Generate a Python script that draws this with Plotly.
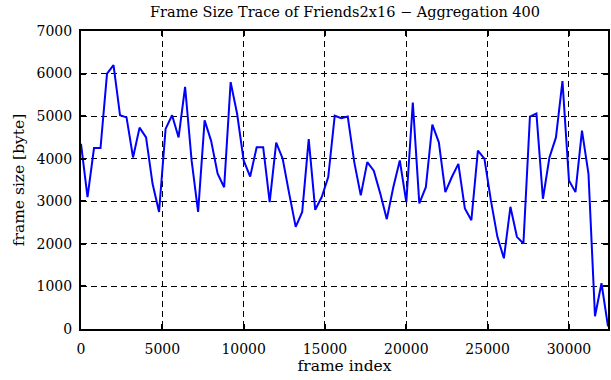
import plotly.graph_objects as go

# Aggregated frame sizes (bytes), one value per 400 frames
frame_index = [i * 400 for i in range(82)]
frame_size = [
    4350, 3100, 4250, 4250, 6000, 6200, 5020, 4970, 4030, 4730,
    4500, 3410, 2750, 4700, 5020, 4500, 5690, 3960, 2750, 4900,
    4420, 3650, 3330, 5800, 5050, 3960, 3580, 4270, 4270, 2980,
    4380, 4000, 3180, 2400, 2750, 4460, 2800, 3100, 3570, 5010,
    4950, 4990, 3920, 3140, 3920, 3720, 3180, 2580, 3330, 3960,
    2980, 5320, 2950, 3330, 4800, 4385, 3215, 3570, 3880, 2830,
    2555, 4190, 4000, 3020, 2165, 1660, 2870, 2165, 2010, 4990,
    5060, 3060, 4030, 4500, 5825, 3490, 3215, 4660, 3645, 300,
    1075, 60,
]
x_ticks = [0, 5000, 10000, 15000, 20000, 25000, 30000]
x_tick_labels = ["0", "5000", "10000", "15000", "20000", "25000", "30000"]
y_ticks = [0, 1000, 2000, 3000, 4000, 5000, 6000, 7000]
y_tick_labels = ["0", "1000", "2000", "3000", "4000", "5000", "6000", "7000"]

fig = go.Figure(
    go.Scatter(
        x=frame_index, y=frame_size, mode="lines",
        line=dict(color="#0000ff", width=2),
        showlegend=False,
    )
)

serif = "DejaVu Serif"
axis_common = dict(
    showline=True, linecolor="black", linewidth=2, mirror="ticks",
    ticks="inside", ticklen=5, tickwidth=1.5, tickcolor="black",
    showgrid=True, gridcolor="black", griddash="6px,4px", gridwidth=1,
    zeroline=False, automargin=False,
    tickfont=dict(family=serif, size=14, color="black"),
)

fig.update_layout(
    width=611, height=380,
    margin=dict(l=81, r=3, t=31, b=51),
    paper_bgcolor="white", plot_bgcolor="white",
    title=dict(
        text="Frame Size Trace of Friends2x16 − Aggregation 400",
        font=dict(family=serif, size=14.5, color="black"),
        x=0.5647, xanchor="center", y=0.968, yanchor="middle", automargin=False,
    ),
    xaxis=dict(
        axis_common, range=[0, 32400], tickvals=x_ticks, ticktext=x_tick_labels,
        ticklabelstandoff=6,
        title=dict(text="frame index", font=dict(family=serif, size=15.5, color="black"), standoff=2),
    ),
    yaxis=dict(
        axis_common, range=[0, 7000], tickvals=y_ticks, ticktext=y_tick_labels,
        ticklabelstandoff=4,
        title=dict(text="frame size [byte]", font=dict(family=serif, size=15.5, color="black"), standoff=8),
    ),
)

fig.write_html(
    "out.html",
    config={"displayModeBar": False},
    post_script="document.body.style.margin='0';document.body.style.padding='0';",
)
